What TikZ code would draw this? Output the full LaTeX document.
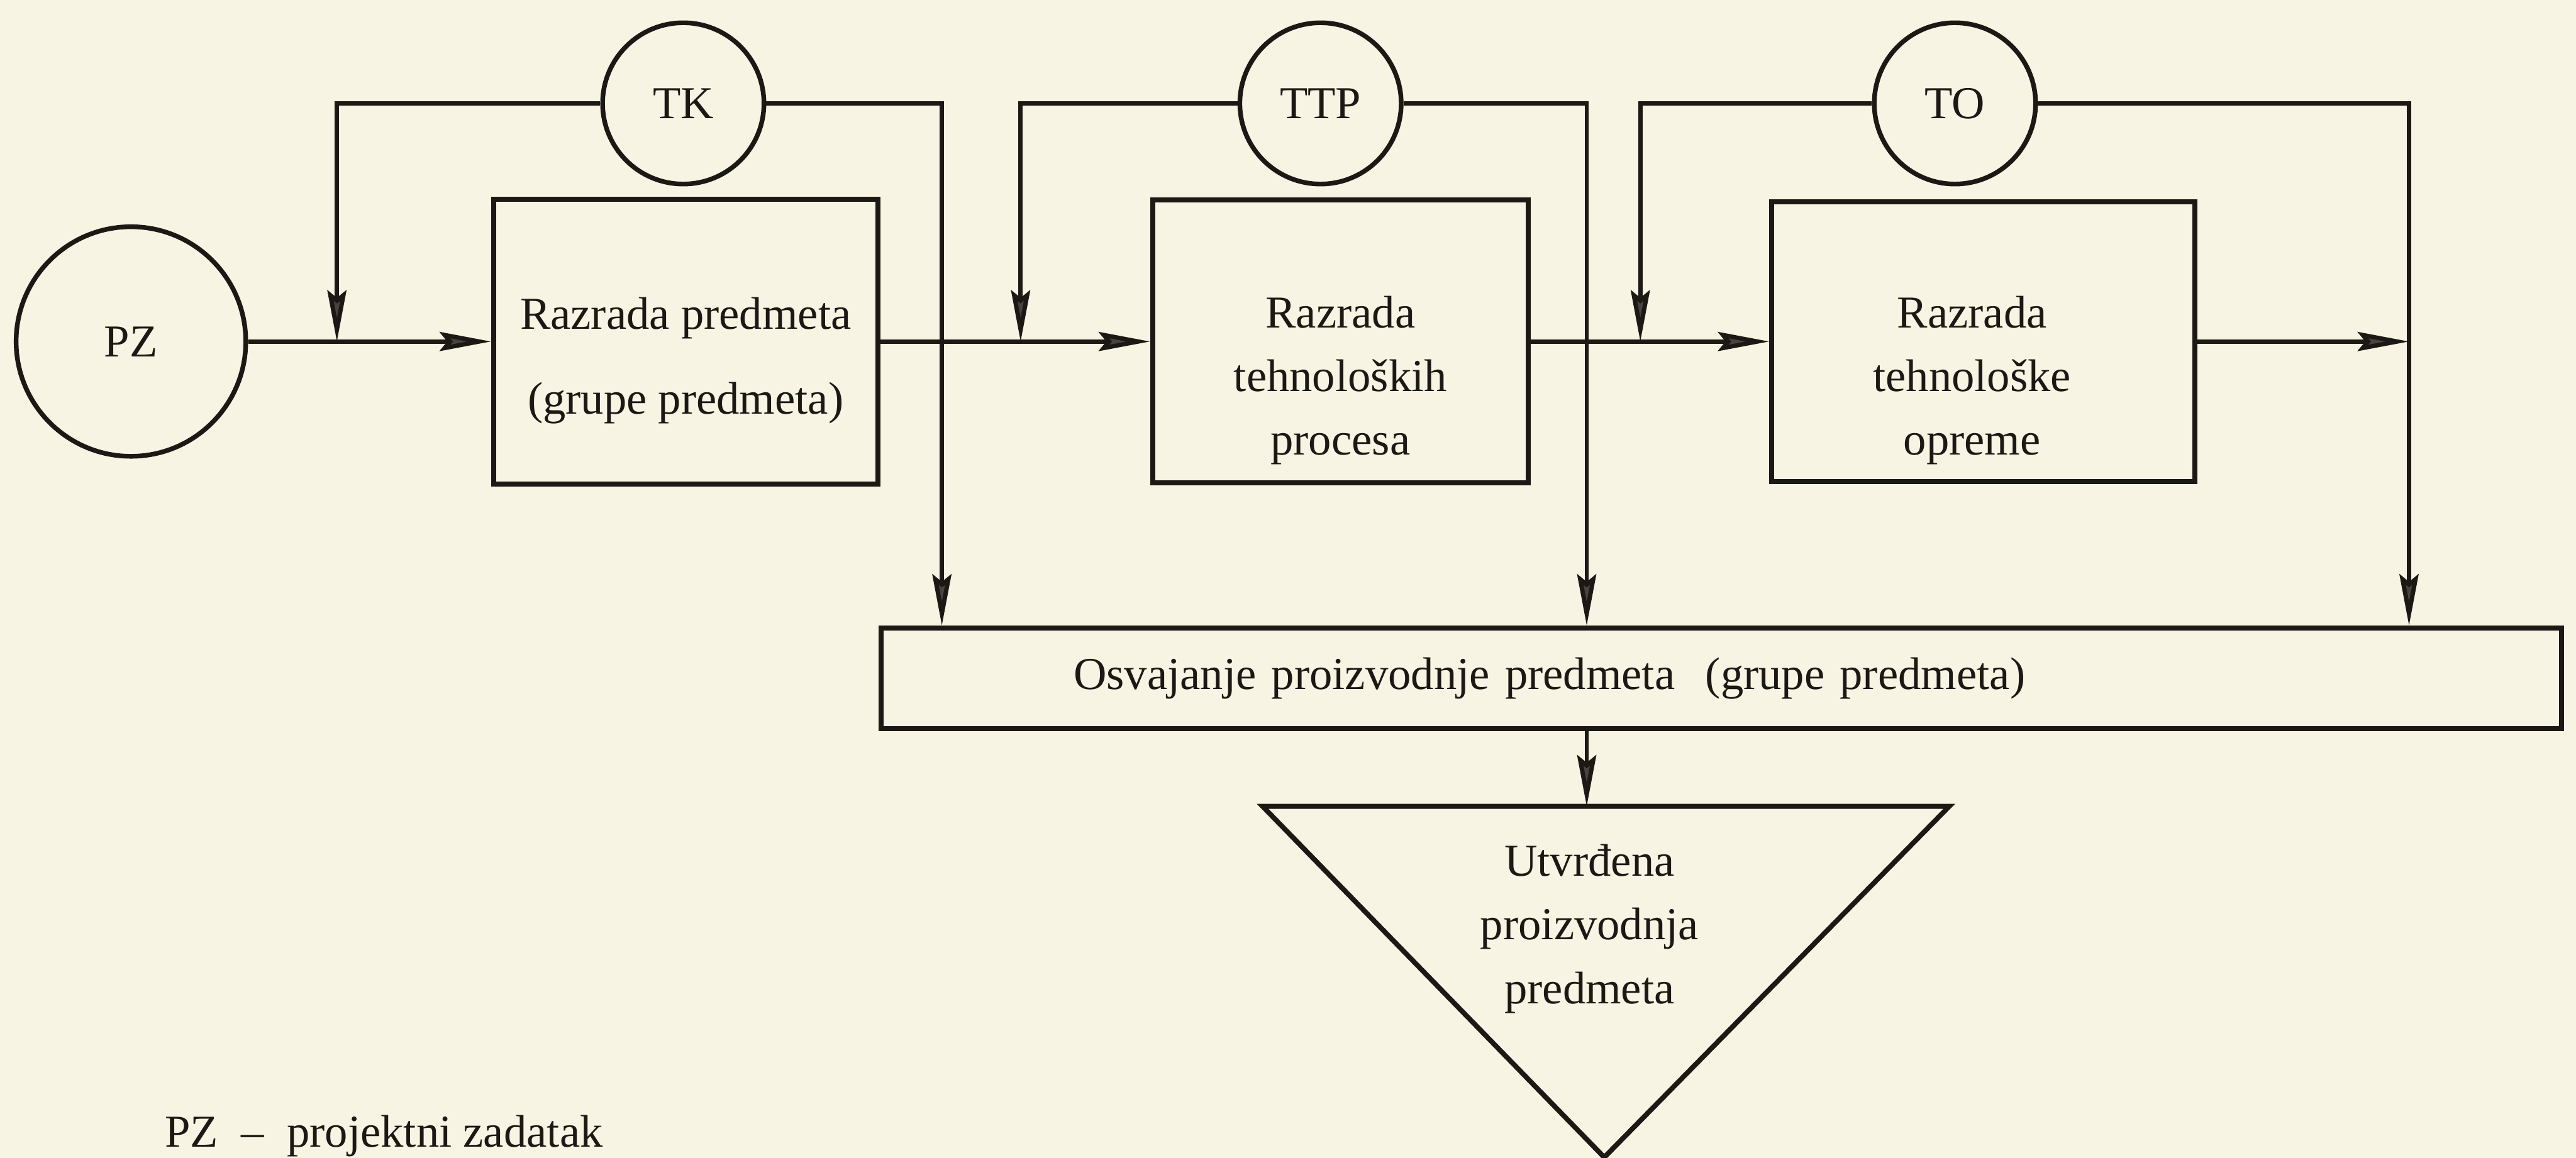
\documentclass[tikz,border=0pt]{standalone}
\usepackage{fontspec}
\setmainfont{Liberation Serif}
\usetikzlibrary{arrows.meta}
\definecolor{paper}{RGB}{247,244,228}
\definecolor{ink}{RGB}{28,24,20}
\definecolor{tipgray}{RGB}{72,67,62}

\begin{document}
\begin{tikzpicture}
\fill[paper] (0,0) rectangle (27.145,-12.205);
\useasboundingbox (0,0) rectangle (27.145,-12.205);
\begin{scope}
	\tikzstyle{every node}=[font=\fontsize{13.7}{19.1}\selectfont, text=ink, align=center]
	\tikzstyle{kolo}=[draw=ink, circle, line width=1.4pt, minimum size=1.7cm, inner sep=0pt]
	\tikzstyle{blok}=[draw=ink, line width=1.5pt, inner sep=0pt]
	\tikzstyle{veza}=[draw=ink, line width=1.3pt]
	\tikzstyle{strel}=[veza, -{Stealth[length=5.4mm, width=2.0mm, inset=0.8mm, fill=tipgray]}]

	\node[kolo, minimum size=2.42cm] (pz) at (1.38,-3.6) {PZ};
	\node[kolo] (tk) at (7.20,-1.09) {TK};
	\node[kolo] (ttp) at (13.915,-1.09) {TTP};
	\node[kolo] (to) at (20.60,-1.09) {TO};

	\node[blok, minimum width=4.05cm, minimum height=3.0cm] (b1) at (7.225,-3.6) {};
	\node[blok, minimum width=3.96cm, minimum height=2.98cm] (b2) at (14.125,-3.6) {};
	\node[blok, minimum width=4.46cm, minimum height=2.95cm] (b3) at (20.90,-3.6) {};
	\node (t1) at ([yshift=-0.2cm]b1.center) {Razrada predmeta\\[6.3pt](grupe predmeta)};
	\node (t2) at ([yshift=-0.41cm]b2.center) {Razrada\\tehnoloških\\procesa};
	\node (t3) at ([xshift=-0.12cm, yshift=-0.41cm]b3.center) {Razrada\\tehnološke\\opreme};
	\node[blok, text width=13.655cm, inner xsep=2.025cm, minimum height=1.06cm, align=left] (osv) at (18.14,-7.15) {Osvajanje proizvodnje predmeta\ \ (grupe predmeta)};

	\coordinate (tl) at (13.305,-8.5);
	\coordinate (tr) at (20.54,-8.5);
	\coordinate (tv) at (16.905,-12.2);
	\coordinate (ut) at (16.72,-8.5);
	\draw[blok] (tl) -- (tr) -- (tv) -- cycle;
	\node (utv) at (16.75,-9.79) {Utvrđena\\proizvodnja\\predmeta};

	\coordinate (j1) at (3.55,-3.6);
	\coordinate (j2) at (10.755,-3.6);
	\coordinate (j3) at (17.285,-3.6);
	\coordinate (d1) at (9.925,-3.6);
	\coordinate (d2) at (16.72,-3.6);
	\coordinate (d3) at (25.385,-3.6);

	\draw[strel] (pz) -- (b1);
	\draw[strel] (b1) -- (b2);
	\draw[strel] (b2) -- (b3);
	\draw[strel] (b3) -- (d3);

	\draw[strel] (tk.west) -| (j1);
	\draw[strel] (ttp.west) -| (j2);
	\draw[strel] (to.west) -| (j3);
	\draw[strel] (tk.east) -| (d1 |- osv.north);
	\draw[strel] (ttp.east) -| (d2 |- osv.north);
	\draw[strel] (to.east) -| (d3 |- osv.north);

	\draw[strel] (osv.south -| ut) -- (ut);

	\node[anchor=base west] (leg) at (1.615,-12.09) {PZ~~--~~projektni zadatak};
\end{scope}
\end{tikzpicture}
\end{document}
